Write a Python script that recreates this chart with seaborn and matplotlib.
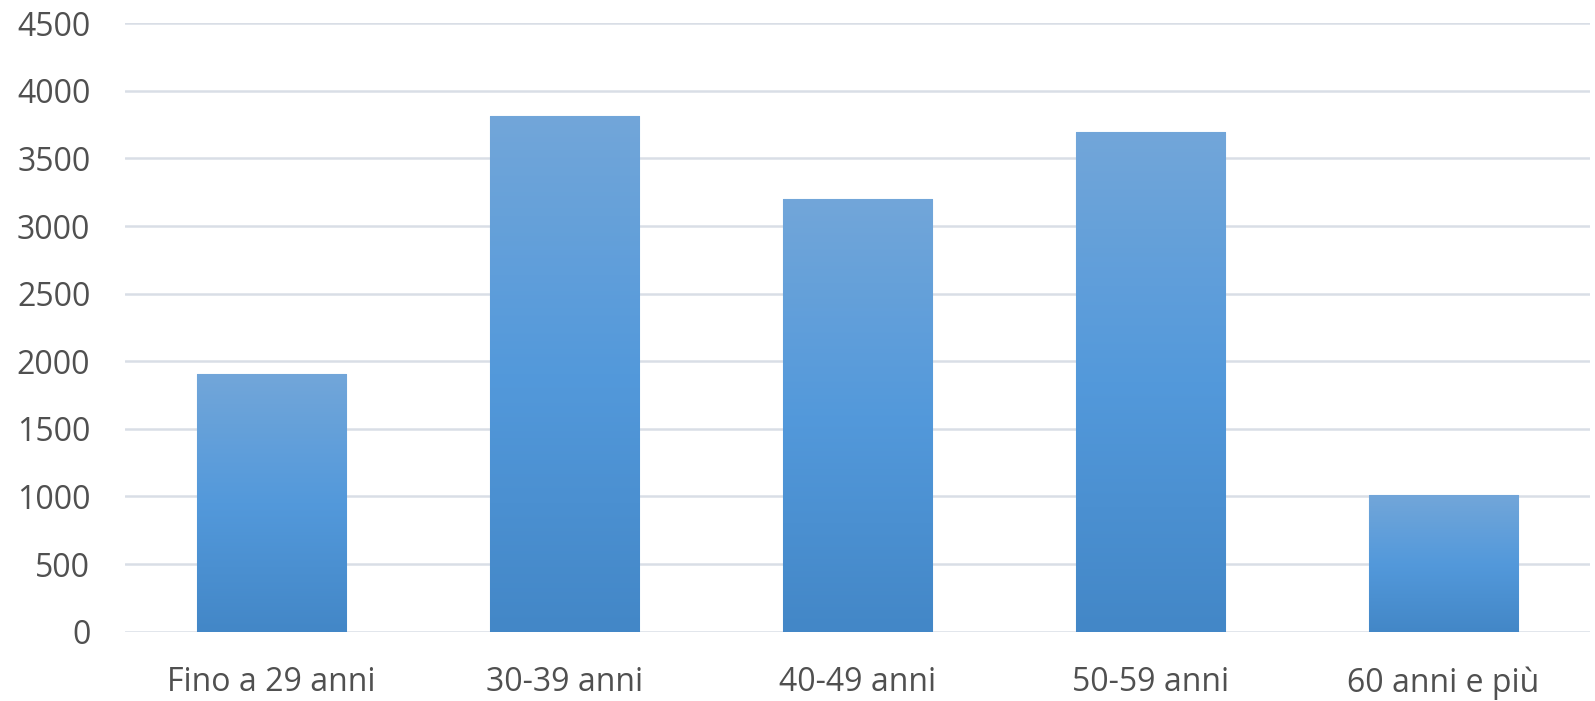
import numpy as np
import pandas as pd
import matplotlib
matplotlib.use("Agg")
import matplotlib.pyplot as plt
from matplotlib.colors import LinearSegmentedColormap
import seaborn as sns

categories = ["Fino a 29 anni", "30-39 anni", "40-49 anni", "50-59 anni", "60 anni e più"]
values = [1905, 3815, 3200, 3695, 1010]
yticks = [0, 500, 1000, 1500, 2000, 2500, 3000, 3500, 4000, 4500]

df = pd.DataFrame({"fascia": categories, "valore": values})

sns.set_theme(style="white")
plt.rcParams["font.family"] = ["Open Sans", "DejaVu Sans"]

fig = plt.figure(figsize=(15.95, 7.01), dpi=100)
ax = fig.add_axes([0.0784, 0.0989, 0.9185, 0.8679])

sns.barplot(data=df, x="fascia", y="valore", color="#5599DA", width=0.51,
            saturation=1, ax=ax, zorder=3)

# vertical gradient fill inside each bar, light at top, darker at bottom
grad_cmap = LinearSegmentedColormap.from_list(
    "bar_grad", ["#4387C7", "#5399DB", "#72A6D9"])
grad = np.linspace(0, 1, 256).reshape(-1, 1)
for patch in ax.patches:
    x0, y0 = patch.get_x(), patch.get_y()
    w, h = patch.get_width(), patch.get_height()
    im = ax.imshow(grad, cmap=grad_cmap, origin="lower", aspect="auto",
                   extent=[x0, x0 + w, y0, y0 + h], zorder=4,
                   interpolation="bilinear")
    im.set_clip_path(patch)
    patch.set_edgecolor("#8FBBE6")
    patch.set_linewidth(0.8)

ax.set_xlim(-0.5, len(categories) - 0.5)
ax.set_ylim(0, 4500)
ax.set_yticks(yticks)
ax.set_yticklabels([str(v) for v in yticks])

for y in yticks:
    ax.axhline(y, color="#D9DEE6", linewidth=1.8, zorder=1)

for s in ax.spines.values():
    s.set_visible(False)

ax.set_xlabel("")
ax.set_ylabel("")
ax.tick_params(axis="y", length=0, pad=25, labelsize=23, labelcolor="#505050")
ax.tick_params(axis="x", length=0, pad=25, labelsize=23, labelcolor="#505050")
ax.set_facecolor("white")
fig.patch.set_facecolor("white")

fig.savefig("out.png", dpi=100, facecolor="white")
